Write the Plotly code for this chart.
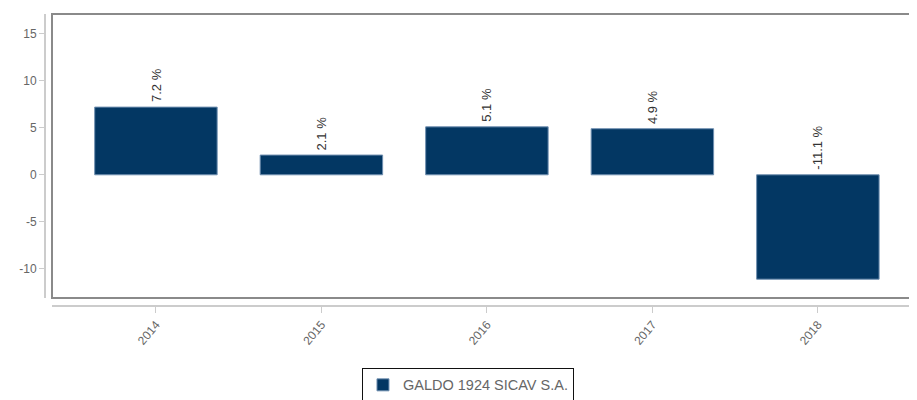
import plotly.graph_objects as go

# Yearly performance of the fund
years = ["2014", "2015", "2016", "2017", "2018"]
returns = [7.2, 2.1, 5.1, 4.9, -11.1]
labels = [f"{v} %" for v in returns]
fund_name = "GALDO 1924 SICAV S.A."
ytick_vals = [-10, -5, 0, 5, 10, 15]
ytick_text = [str(v) for v in ytick_vals]

bar_color = "#033763"
frame_color = "#8a8a8a"
axis_color = "#cccccc"
text_gray = "#666666"

# page body has an 8px margin, so the figure is shifted by 8px
W, H = 909, 392
left, top, bottom = 37, 6, 94
x_dom0 = 7 / (W - left)
y_dom0 = 8 / (H - bottom - top)

fig = go.Figure()
fig.add_trace(go.Bar(
    x=list(range(len(years))), y=returns, name=fund_name,
    width=0.74,
    marker=dict(color=bar_color, line=dict(color="#6f8fb0", width=1)),
))

# value labels, rotated, above the bar top (or above zero for negatives)
for i, (v, t) in enumerate(zip(returns, labels)):
    fig.add_annotation(
        x=i, y=max(v, 0), text=t, textangle=-90, showarrow=False,
        xanchor="center", yanchor="bottom", yshift=3,
        font=dict(family="Liberation Sans, Arial", size=13, color="#333333"),
    )

# grey frame around the plot area
fig.add_shape(type="rect", xref="paper", yref="paper",
              x0=x_dom0, x1=1.02, y0=y_dom0, y1=1,
              line=dict(color=frame_color, width=2), layer="above")

fig.update_layout(
    template="none",
    width=W, height=H,
    margin=dict(l=left, r=0, t=top, b=bottom, autoexpand=False),
    plot_bgcolor="white", paper_bgcolor="white",
    font=dict(family="Liberation Sans, Arial", size=12, color=text_gray),
    showlegend=True,
    legend=dict(orientation="h", x=0.3635, xanchor="left", y=-0.212, yanchor="top",
                bordercolor="#111111", borderwidth=1,
                font=dict(size=14.5, color=text_gray)),
    xaxis=dict(domain=[x_dom0, 1], anchor="free", position=0, automargin=False,
               range=[-0.628, 4.599], tickmode="array",
               tickvals=list(range(len(years))), ticktext=years,
               tickangle=-50, ticks="outside", ticklen=6, tickcolor=axis_color,
               tickfont=dict(size=12, color=text_gray),
               showline=True, linecolor=axis_color, linewidth=2,
               showgrid=False, zeroline=False),
    yaxis=dict(domain=[y_dom0, 1], anchor="free", position=0, automargin=False,
               range=[-13.1, 17.1], tickmode="array",
               tickvals=ytick_vals, ticktext=ytick_text,
               ticks="outside", ticklen=5, tickcolor=axis_color,
               tickfont=dict(size=12, color=text_gray),
               showline=True, linecolor=axis_color, linewidth=2,
               showgrid=False, zeroline=False),
)

fig.write_html("out.html")
